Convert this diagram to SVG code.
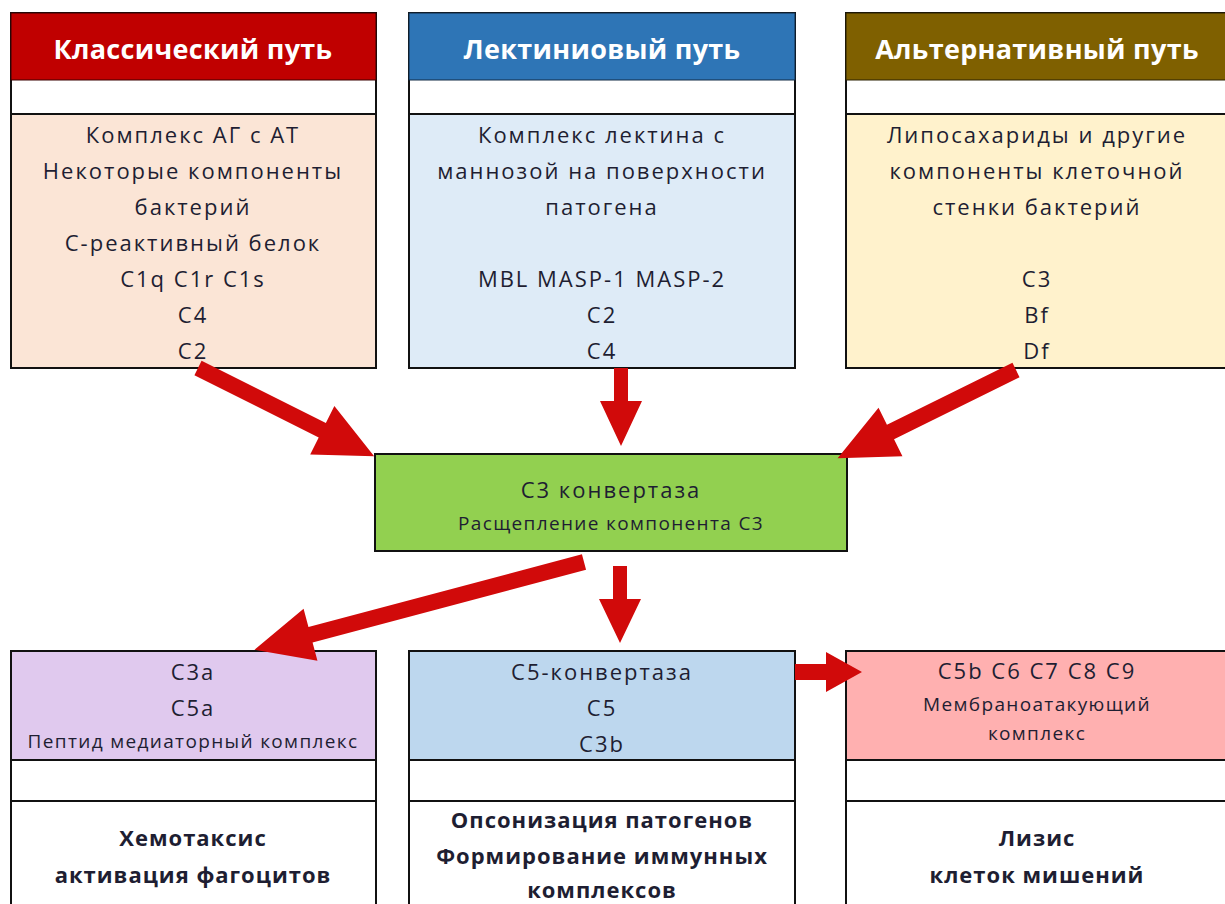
<svg xmlns="http://www.w3.org/2000/svg" width="1225" height="904" viewBox="0 0 1225 904">
  <style>
    .hdr { font-family: "Open Sans", "Liberation Sans", sans-serif; font-weight: bold; font-size: 27px; fill: #ffffff; text-anchor: middle; letter-spacing: 0.3px; }
    .txt { font-family: "Open Sans", "Liberation Sans", sans-serif; font-size: 22px; fill: #1e1e32; text-anchor: middle; letter-spacing: 2px; }
    .sm { font-family: "Open Sans", "Liberation Sans", sans-serif; font-size: 19px; fill: #1e1e32; text-anchor: middle; letter-spacing: 1.35px; }
    .bld { font-family: "Open Sans", "Liberation Sans", sans-serif; font-weight: bold; font-size: 22px; fill: #1e1e32; text-anchor: middle; letter-spacing: 1px; }
    .box { stroke: #111; stroke-width: 2; }
    .band { fill: #ffffff; stroke: #111; stroke-width: 2; }
    .arrow { fill: #d10a0a; }
  </style>

  <rect width="1225" height="904" fill="#ffffff"/>

  <!-- Pathway: classical -->
  <g id="classical">
    <rect x="11" y="13" width="365" height="355" class="band"/>
    <rect x="11" y="13" width="365" height="67" fill="#c00000" stroke="#3a0000" stroke-width="1"/>
    <text x="193" y="59" class="hdr">Классический путь</text>
    <rect x="11" y="114" width="365" height="254" fill="#fbe5d6" class="box"/>
    <text x="193" y="143" class="txt">Комплекс АГ с АТ</text>
    <text x="193" y="179" class="txt">Некоторые компоненты</text>
    <text x="193" y="215" class="txt">бактерий</text>
    <text x="193" y="251" class="txt">С-реактивный белок</text>
    <text x="193" y="287" class="txt">C1q C1r C1s</text>
    <text x="193" y="323" class="txt">C4</text>
    <text x="193" y="359" class="txt">C2</text>
  </g>

  <!-- Pathway: lectin -->
  <g id="lectin">
    <rect x="409" y="13" width="386" height="355" class="band"/>
    <rect x="409" y="13" width="386" height="67" fill="#2e75b6" stroke="#102a44" stroke-width="1"/>
    <text x="602" y="59" class="hdr">Лектиниовый путь</text>
    <rect x="409" y="114" width="386" height="254" fill="#deebf7" class="box"/>
    <text x="602" y="143" class="txt">Комплекс лектина с</text>
    <text x="602" y="179" class="txt">маннозой на поверхности</text>
    <text x="602" y="215" class="txt">патогена</text>
    <text x="602" y="287" class="txt">MBL MASP-1 MASP-2</text>
    <text x="602" y="323" class="txt">C2</text>
    <text x="602" y="359" class="txt">C4</text>
  </g>

  <!-- Pathway: alternative -->
  <g id="alternative">
    <rect x="846" y="13" width="400" height="355" class="band"/>
    <rect x="846" y="13" width="400" height="67" fill="#7f6000" stroke="#2a2000" stroke-width="1"/>
    <text x="1037" y="59" class="hdr">Альтернативный путь</text>
    <rect x="846" y="114" width="400" height="254" fill="#fff2cc" class="box"/>
    <text x="1037" y="143" class="txt">Липосахариды и другие</text>
    <text x="1037" y="179" class="txt">компоненты клеточной</text>
    <text x="1037" y="215" class="txt">стенки бактерий</text>
    <text x="1037" y="287" class="txt">C3</text>
    <text x="1037" y="323" class="txt">Bf</text>
    <text x="1037" y="359" class="txt">Df</text>
  </g>

  <!-- C3 convertase -->
  <g id="c3-convertase">
    <rect x="375" y="454" width="472" height="97" fill="#92d050" class="box"/>
    <text x="611" y="498" class="txt">С3 конвертаза</text>
    <text x="611" y="530" class="sm">Расщепление компонента С3</text>
  </g>

  <!-- Products -->
  <g id="mediators">
    <rect x="11" y="651" width="365" height="270" class="band"/>
    <rect x="11" y="651" width="365" height="109" fill="#e0c9ee" class="box"/>
    <line x1="11" y1="801" x2="376" y2="801" stroke="#111" stroke-width="2"/>
    <text x="193" y="680" class="txt">C3a</text>
    <text x="193" y="716" class="txt">C5a</text>
    <text x="193" y="748" class="sm">Пептид медиаторный комплекс</text>
    <text x="193" y="846" class="bld">Хемотаксис</text>
    <text x="193" y="883" class="bld">активация фагоцитов</text>
  </g>

  <g id="c5-convertase">
    <rect x="409" y="651" width="386" height="270" class="band"/>
    <rect x="409" y="651" width="386" height="109" fill="#bdd7ee" class="box"/>
    <line x1="409" y1="801" x2="795" y2="801" stroke="#111" stroke-width="2"/>
    <text x="602" y="680" class="txt">C5-конвертаза</text>
    <text x="602" y="716" class="txt">C5</text>
    <text x="602" y="752" class="txt">C3b</text>
    <text x="602" y="828" class="bld">Опсонизация патогенов</text>
    <text x="602" y="864" class="bld">Формирование иммунных</text>
    <text x="602" y="898" class="bld">комплексов</text>
  </g>

  <g id="mac">
    <rect x="846" y="651" width="400" height="270" class="band"/>
    <rect x="846" y="651" width="400" height="109" fill="#ffb0b0" class="box"/>
    <line x1="846" y1="801" x2="1246" y2="801" stroke="#111" stroke-width="2"/>
    <text x="1037" y="679" class="txt">C5b C6 C7 C8 C9</text>
    <text x="1037" y="711" class="sm">Мембраноатакующий</text>
    <text x="1037" y="740" class="sm">комплекс</text>
    <text x="1037" y="846" class="bld">Лизис</text>
    <text x="1037" y="883" class="bld">клеток мишений</text>
  </g>

  <!-- Block arrows: each path points along +x from its origin -->
  <g id="connectors" class="arrow">
    <path transform="translate(198,368) rotate(26.6)" d="M0,-8 L139,-8 L139,-27 L197,0 L139,27 L139,8 L0,8 Z"/>
    <path transform="translate(621,368) rotate(90)" d="M0,-7 L33,-7 L33,-21 L78,0 L33,21 L33,7 L0,7 Z"/>
    <path transform="translate(1016,370) rotate(153.7)" d="M0,-8 L140,-8 L140,-27 L199,0 L140,27 L140,8 L0,8 Z"/>
    <path transform="translate(584,562) rotate(165.1)" d="M0,-8 L283,-8 L283,-27 L341,0 L283,27 L283,8 L0,8 Z"/>
    <path transform="translate(620,566) rotate(90)" d="M0,-7 L33,-7 L33,-21 L77,0 L33,21 L33,7 L0,7 Z"/>
    <path transform="translate(795,672)" d="M0,-8 L31,-8 L31,-20 L67,0 L31,20 L31,8 L0,8 Z"/>
  </g>
</svg>
